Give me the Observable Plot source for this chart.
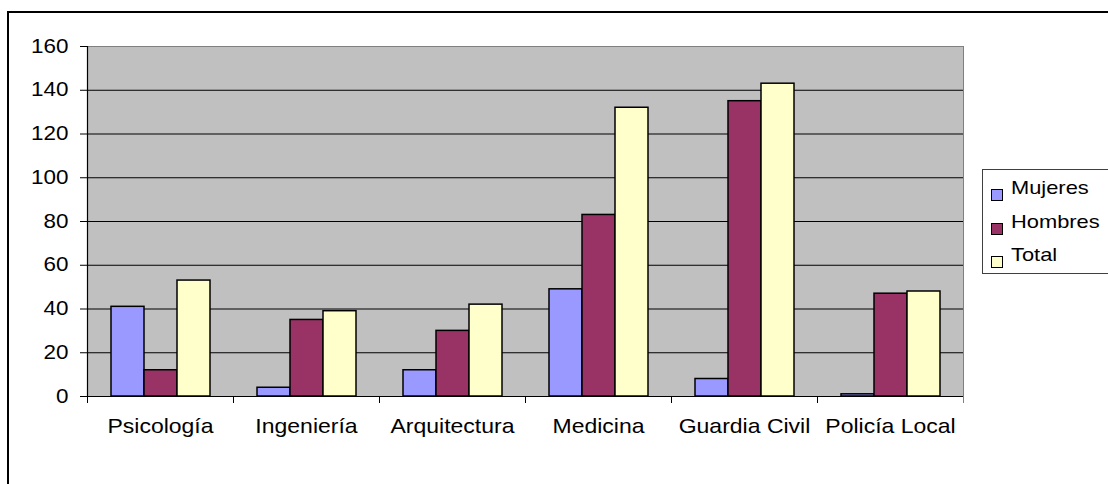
<!DOCTYPE html>
<html>
<head>
<meta charset="utf-8">
<script src="https://cdn.jsdelivr.net/npm/d3@7"></script>
<script src="https://cdn.jsdelivr.net/npm/@observablehq/plot@0.6"></script>
<style>
  body { margin: 0; background: #fff; }
  #wrap { position: relative; width: 1108px; height: 484px; overflow: hidden; font-family: "Liberation Sans", Arial, sans-serif; }
  #border { position: absolute; left: 7px; top: 11px; width: 1200px; height: 600px; border-top: 2px solid #000; border-left: 2px solid #000; }
  #chart { position: absolute; left: 0; top: 0; }
  #legend { position: absolute; left: 982px; top: 169px; width: 150px; height: 103px; border: 1px solid #404040; background: #fff; }
  .row { position: absolute; left: 0; height: 33.5px; display: flex; align-items: center; font-size: 19px; color: #000; white-space: nowrap; }
  .sw { width: 10px; height: 10px; border: 1.5px solid #000; margin-left: 8px; margin-right: 8px; position: relative; top: 7px; }
  .lbl { display: inline-block; transform: scaleX(1.15); transform-origin: left center; }
</style>
</head>
<body>
<div id="wrap">
  <div id="border"></div>
  <div id="chart"></div>
  <div id="legend"></div>
</div>
<script>
const categories = ["Psicología", "Ingeniería", "Arquitectura", "Medicina", "Guardia Civil", "Policía Local"];
const series = ["Mujeres", "Hombres", "Total"];
const mujeres = [41, 4, 12, 49, 8, 1];
const hombres = [12, 35, 30, 83, 135, 47];
const total = [53, 39, 42, 132, 143, 48];
const colors = ["#9999FF", "#993366", "#FFFFCC"];
const yTicks = [0, 20, 40, 60, 80, 100, 120, 140, 160];

const values = [mujeres, hombres, total];
const data = categories.flatMap((c, i) => series.map((s, j) => ({category: c, series: s, value: values[j][i]})));

const chart = Plot.plot({
  width: 1108,
  height: 484,
  marginLeft: 87,
  marginRight: 145,
  marginTop: 46,
  marginBottom: 88,
  style: {fontFamily: '"Liberation Sans", Arial, sans-serif', fontSize: "19px", color: "#000", background: "transparent", overflow: "visible"},
  fx: {domain: categories, padding: 0, label: null},
  x: {domain: series, paddingInner: 0, paddingOuter: 0.712, axis: null},
  y: {domain: [0, 160], label: null},
  color: {domain: series, range: colors},
  marks: [
    Plot.frame({facet: "super", fill: "#c0c0c0", stroke: "#808080"}),
    Plot.ruleY(yTicks.slice(1, -1), {stroke: "#000", strokeWidth: 1}),
    Plot.barY(data, {fx: "category", x: "series", y: "value", fill: "series", stroke: "#000", strokeWidth: 1.5, inset: 0}),
    Plot.ruleY([0], {stroke: "#000", strokeWidth: 1.2}),
    Plot.frame({facet: "super", anchor: "left", stroke: "#000", strokeWidth: 1.2}),
    Plot.axisY({ticks: yTicks, tickSize: 7, tickPadding: 12, fontSize: 19.5, label: null, tickFormat: d => d}),
    Plot.axisFx({anchor: "bottom", tickSize: 0, tickPadding: 22, fontSize: 20, label: null}),
    Plot.axisFx({anchor: "bottom", ticks: categories, fill: "none", tickSize: 7, dx: -73, label: null}),
    Plot.axisFx({anchor: "bottom", ticks: categories.slice(-1), fill: "none", tickSize: 7, dx: 73, label: null, stroke: "#808080"})
  ]
});

for (const t of chart.querySelectorAll("text")) {
  const xa = t.getAttribute("x");
  let x = 0;
  if (xa !== null && /^-?[\d.]+$/.test(xa)) { x = +xa; t.removeAttribute("x"); }
  const tr = t.getAttribute("transform") || "";
  t.setAttribute("transform", `${tr} translate(${x},0) scale(1.15,1)`);
}
document.getElementById("chart").appendChild(chart);

const legend = document.getElementById("legend");
series.forEach((s, i) => {
  const row = document.createElement("div");
  row.className = "row";
  row.style.top = (1.5 + i * 33.5) + "px";
  const sw = document.createElement("div");
  sw.className = "sw";
  sw.style.background = colors[i];
  const lbl = document.createElement("span");
  lbl.className = "lbl";
  lbl.textContent = s;
  row.appendChild(sw);
  row.appendChild(lbl);
  legend.appendChild(row);
});
</script>
</body>
</html>
